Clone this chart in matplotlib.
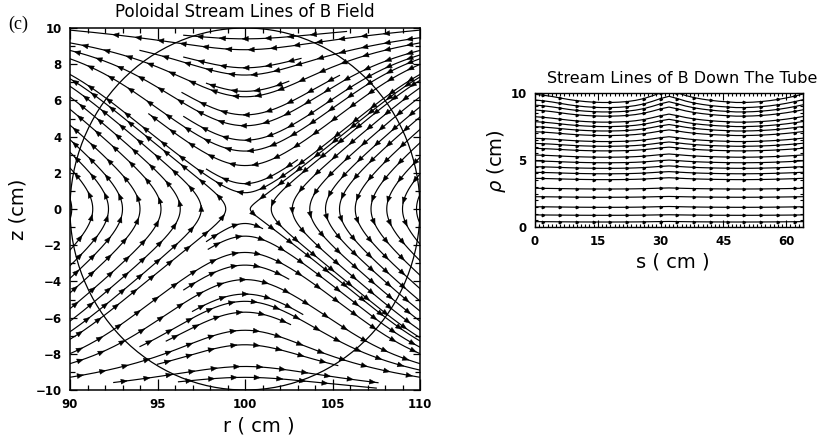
import numpy as np
import matplotlib.pyplot as plt
from matplotlib.patches import FancyArrowPatch, Circle
from matplotlib.ticker import MultipleLocator

# ---- poloidal field: flux function psi = F(r - R0) - G(z)
R0 = 100.0
TUBE_RADIUS = 10.0
D, E, L = 3.5, 2.0, 0.9
K, B = 1.189, 2.837e-4

# lines above / below the X point: (z at r = R0, r start, r end)
TOP_LINES = [
    (9.4, 96.5, 105.8), (8.8, 90.0, 110.0), (7.8, 96.5, 103.2),
    (7.4, 94.0, 110.0), (6.5, 97.8, 102.5), (6.2, 90.0, 110.0),
    (5.2, 96.4, 105.4), (4.6, 90.0, 110.0), (3.8, 96.5, 110.0),
    (3.2, 90.0, 110.0), (2.4, 94.5, 110.0), (1.4, 97.8, 103.0),
    (0.9, 90.0, 110.0),
]
BOTTOM_LINES = [
    (-0.8, 97.8, 101.0), (-1.5, 97.9, 110.0), (-2.4, 90.0, 110.0),
    (-3.1, 96.5, 102.5), (-3.9, 90.0, 110.0), (-4.7, 97.0, 103.3),
    (-5.1, 94.0, 110.0), (-5.7, 95.5, 102.6), (-6.7, 90.0, 110.0),
    (-7.5, 95.0, 105.3), (-8.7, 92.5, 107.6), (-9.3, 96.2, 107.5),
]
# lines left / right of the X point: r where they cross z = 0
LEFT_APEX = [90.1, 91.3, 92.2, 93.0, 94.0, 95.2, 96.3, 97.5, 98.9]
RIGHT_APEX = [100.3, 101.5, 102.7, 103.7, 104.6, 105.4, 106.3, 107.2,
              108.1, 109.0, 109.8]

# ---- field lines down the tube
S_GRID = np.arange(0, 65, 2)
WAVE = [0.35, 0.2, 0.0, -0.25, -0.5, -0.7, -0.85, -0.95, -1.0, -1.0, -0.95,
        -0.85, -0.65, -0.35, 0.1, 0.6, 1.0, 0.6, 0.15, -0.2, -0.45, -0.65,
        -0.8, -0.9, -1.0, -1.0, -0.95, -0.85, -0.7, -0.5, -0.25, 0.05, 0.4]
RHO_START = [9.9, 9.48, 9.1, 8.73, 8.23, 7.86, 7.49, 7.11, 6.62, 6.24, 5.87,
             5.37, 4.93, 4.5, 4.08, 3.63, 2.89, 2.26, 1.51, 0.9, 0.4]
RHO_AMP = [0.45, 0.42, 0.38, 0.34, 0.3, 0.27, 0.24, 0.21, 0.18, 0.16, 0.14,
           0.12, 0.1, 0.09, 0.08, 0.07, 0.04, 0.03, 0.03, 0.02, 0.02]

LW = 0.85


def F(x):
    return np.sqrt(x ** 2 + D ** 2) - D


def F_inv(v):
    return np.sqrt((v + D) ** 2 - D ** 2)


def G(z):
    return K * (np.sqrt(z ** 2 + E ** 2) - E) + B * (np.cosh(z / L) - 1)


_zt = np.linspace(0, 14, 4000)
_gt = G(_zt)


def G_inv(v):
    return np.interp(v, _gt, _zt)


def add_arrows(ax, xs, ys, step=1.3, first=0.6):
    # arrowheads along a path, pointing towards increasing index
    seg = np.hypot(np.diff(xs), np.diff(ys))
    dist = np.concatenate([[0], np.cumsum(seg)])
    for d in np.arange(first, dist[-1] - 0.2, step):
        i = min(max(np.searchsorted(dist, d), 1), len(xs) - 1)
        x1, y1 = xs[i], ys[i]
        if not (90.25 < x1 < 109.75 and -9.75 < y1 < 9.75):
            continue
        ux, uy = x1 - xs[i - 1], y1 - ys[i - 1]
        n = np.hypot(ux, uy)
        ux, uy = ux / n * 0.2, uy / n * 0.2
        ax.add_patch(FancyArrowPatch((x1 - ux, y1 - uy), (x1 + ux, y1 + uy),
                                     arrowstyle='-|>,head_length=0.75,head_width=0.3',
                                     mutation_scale=6, lw=0.3, color='k',
                                     shrinkA=0, shrinkB=0))


def bold_ticks(ax, size):
    for lbl in ax.get_xticklabels() + ax.get_yticklabels():
        lbl.set_fontweight('bold')
        lbl.set_fontsize(size)


fig = plt.figure(figsize=(8.32, 4.42), dpi=100)

# ================= left panel =================
ax = fig.add_axes([70 / 832, 52 / 442, 350 / 832, 362 / 442])

for z0, r_lo, r_hi in TOP_LINES + BOTTOM_LINES:
    x = np.linspace(r_lo - R0, r_hi - R0, 500)
    z = np.sign(z0) * G_inv(F(x) + G(abs(z0)))
    r = x + R0
    ax.plot(r, z, color='k', lw=LW)
    if z0 > 0:
        add_arrows(ax, r[::-1], z[::-1])
    else:
        add_arrows(ax, r, z)

for r0 in LEFT_APEX + RIGHT_APEX:
    z = np.linspace(-10.5, 10.5, 800)
    x = np.sign(r0 - R0) * F_inv(F(r0 - R0) + G(z))
    r = x + R0
    ax.plot(r, z, color='k', lw=LW)
    if r0 < R0:
        add_arrows(ax, r, z)
    else:
        add_arrows(ax, r[::-1], z[::-1])

ax.add_patch(Circle((R0, 0), TUBE_RADIUS, fill=False, lw=0.9, color='k'))

ax.set_xlim(90, 110)
ax.set_ylim(-10, 10)
ax.xaxis.set_major_locator(MultipleLocator(5))
ax.xaxis.set_minor_locator(MultipleLocator(1))
ax.yaxis.set_major_locator(MultipleLocator(2))
ax.yaxis.set_minor_locator(MultipleLocator(1))
ax.tick_params(which='both', direction='in', top=True, right=True, width=0.9)
ax.tick_params(axis='x', which='major', length=8, pad=6)
ax.tick_params(axis='y', which='major', length=5, pad=6)
ax.tick_params(which='minor', length=3.5)
bold_ticks(ax, 8.5)
for sp in ax.spines.values():
    sp.set_linewidth(1.1)

ax.set_title('Poloidal Stream Lines of B Field', fontsize=12, pad=8)
ax.set_xlabel('r ( cm )', fontsize=14)
ax.set_ylabel('z (cm)', fontsize=14)
ax.xaxis.set_label_coords(0.54, -0.072)
ax.yaxis.set_label_coords(-0.12, 0.5)

fig.text(8 / 832, 1 - 24 / 442, '(c)', family='Liberation Serif', fontsize=13,
         ha='left', va='center')

# ================= right panel =================
ax2 = fig.add_axes([535 / 832, 215 / 442, 268 / 832, 134 / 442])
wave = np.array(WAVE)
for rho, amp in zip(RHO_START, RHO_AMP):
    rho_line = rho + amp * (wave - wave[0])
    ax2.plot(S_GRID, rho_line, color='k', lw=0.85, marker='>', ms=1.8,
             markevery=(1, 2))

ax2.set_xlim(0, 64)
ax2.set_ylim(0, 10)
ax2.xaxis.set_major_locator(MultipleLocator(15))
ax2.xaxis.set_minor_locator(MultipleLocator(1))
ax2.yaxis.set_major_locator(MultipleLocator(5))
ax2.yaxis.set_minor_locator(MultipleLocator(0.5))
ax2.tick_params(which='both', direction='in', top=True, right=True, width=0.8)
ax2.tick_params(which='major', length=5, pad=6)
ax2.tick_params(which='minor', length=2)
bold_ticks(ax2, 8.5)
for sp in ax2.spines.values():
    sp.set_linewidth(1.0)

ax2.set_title('Stream Lines of B Down The Tube', fontsize=11.5, pad=7, x=0.55)
ax2.set_xlabel('s ( cm )', fontsize=14)
ax2.set_ylabel(r'$\rho$ (cm)', fontsize=14)
ax2.xaxis.set_label_coords(0.515, -0.19)
ax2.yaxis.set_label_coords(-0.10, 0.49)

fig.savefig('out.png', dpi=100)
